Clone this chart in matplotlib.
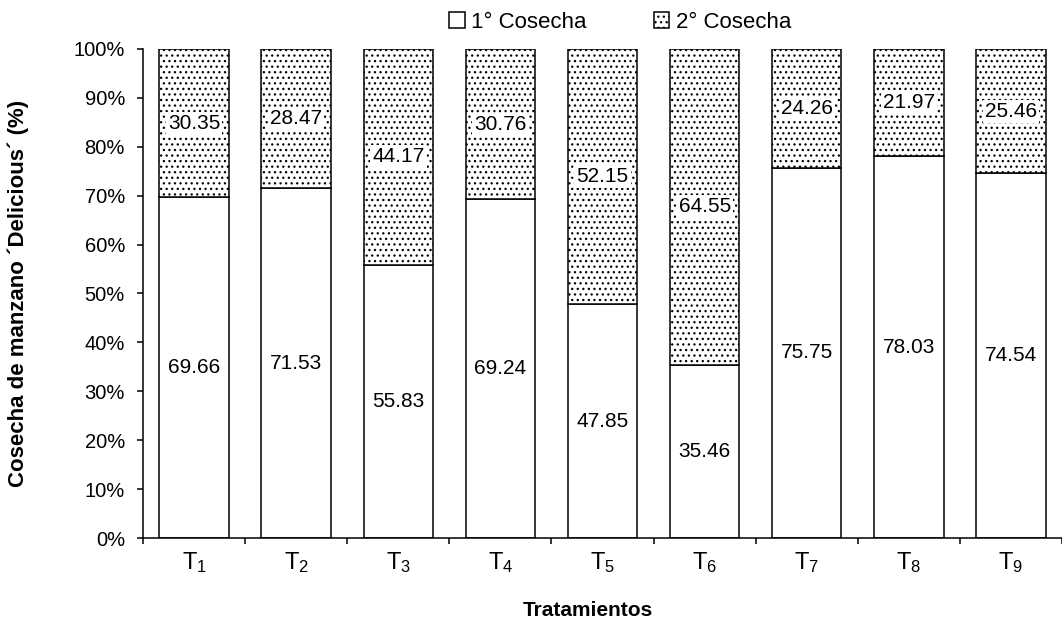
import matplotlib.pyplot as plt
import numpy as np

plt.rcParams['font.family'] = ['Liberation Sans', 'DejaVu Sans']
plt.rcParams['mathtext.fontset'] = 'custom'
plt.rcParams['mathtext.rm'] = 'Liberation Sans'
plt.rcParams['mathtext.it'] = 'Liberation Sans'
plt.rcParams['hatch.linewidth'] = 0.9

# data
tratamientos = ['1', '2', '3', '4', '5', '6', '7', '8', '9']
cosecha1 = [69.66, 71.53, 55.83, 69.24, 47.85, 35.46, 75.75, 78.03, 74.54]
cosecha2 = [30.35, 28.47, 44.17, 30.76, 52.15, 64.55, 24.26, 21.97, 25.46]

fig = plt.figure(figsize=(10.62, 6.24), dpi=100)
ax = fig.add_axes([0.1347, 0.1378, 0.8653, 0.7837])

x = np.arange(len(tratamientos))
w = 0.68
ax.bar(x, cosecha1, w, color='white', edgecolor='black', linewidth=1.1, label='1° Cosecha')
ax.bar(x, cosecha2, w, bottom=cosecha1, color='white', edgecolor='black',
       hatch='...', linewidth=1.1, label='2° Cosecha')

# value labels centred in each segment, on a white box
for i in range(len(x)):
    ax.text(x[i], cosecha1[i] / 2, f'{cosecha1[i]:.2f}', ha='center', va='center',
            fontsize=15, bbox=dict(facecolor='white', edgecolor='none', pad=1.5))
    ax.text(x[i], cosecha1[i] + cosecha2[i] / 2, f'{cosecha2[i]:.2f}', ha='center',
            va='center', fontsize=15,
            bbox=dict(facecolor='white', edgecolor='none', pad=1.5))

ax.set_xlim(-0.5, len(x) - 0.5)
ax.set_ylim(0, 100)
ax.set_yticks(np.arange(0, 101, 10))
ax.set_yticklabels([f'{v}%' for v in range(0, 101, 10)], fontsize=14.5)
ax.set_xticks(x)
ax.set_xticklabels([r'T$_{%s}$' % t for t in tratamientos], fontsize=17)
ax.set_xticks(np.arange(-0.5, len(x), 1), minor=True)
ax.tick_params(axis='x', which='major', length=0, pad=9)
ax.tick_params(axis='x', which='minor', length=4, width=1.1, direction='out')
ax.tick_params(axis='y', length=4, width=1.1, direction='out', pad=9)

for s in ['top', 'right']:
    ax.spines[s].set_visible(False)
for s in ['left', 'bottom']:
    ax.spines[s].set_linewidth(1.1)

fig.text(18 / 1062, 0.53, 'Cosecha de manzano ´Delicious´ (%)', rotation=90,
         ha='center', va='center', fontsize=16, fontweight='bold')
fig.text(0.554, 1 - 610 / 624, 'Tratamientos', ha='center', va='center',
         fontsize=15, fontweight='bold')

fig.legend(loc='center', bbox_to_anchor=(0.584, 1 - 22 / 624), ncol=2, frameon=False,
           fontsize=16, handlelength=0.7, handleheight=0.7, handletextpad=0.3,
           columnspacing=3.0, borderaxespad=0)

fig.savefig('out.png', dpi=100)
